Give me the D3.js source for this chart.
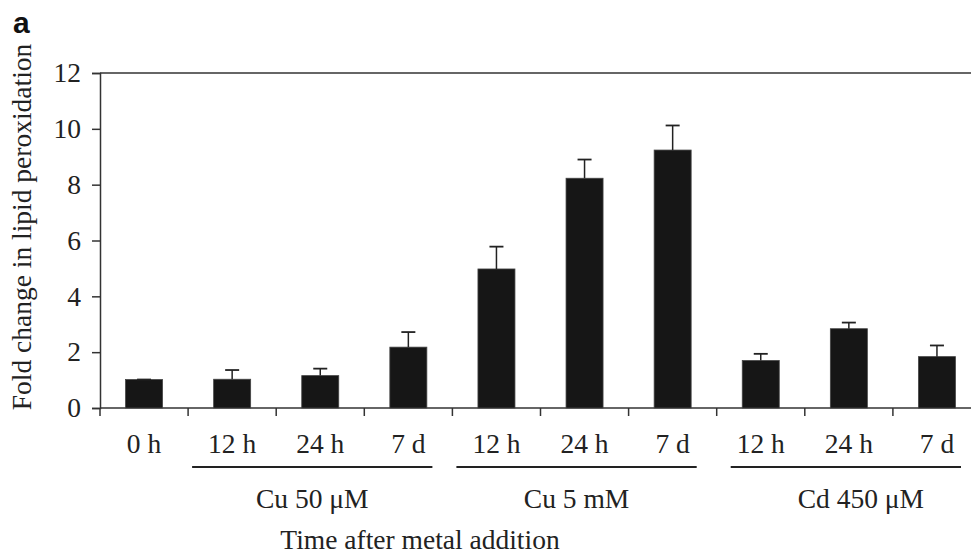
<!DOCTYPE html>
<html>
<head>
<meta charset="utf-8">
<script src="https://cdnjs.cloudflare.com/ajax/libs/d3/7.8.5/d3.min.js"></script>
<style>
	body { margin: 0; background: #fff; }
	text { font-family: 'Liberation Serif', 'Times New Roman', serif; fill: #222; }
</style>
</head>
<body>
<script>
// data
var labels = ['0 h', '12 h', '24 h', '7 d', '12 h', '24 h', '7 d', '12 h', '24 h', '7 d'];
var means  = [1.02, 1.03, 1.16, 2.18, 4.98, 8.23, 9.24, 1.70, 2.84, 1.84];
var errors = [0.0, 0.33, 0.25, 0.54, 0.80, 0.67, 0.88, 0.24, 0.22, 0.40];
var groupNames = ['Cu 50 \u03bcM', 'Cu 5 mM', 'Cd 450 \u03bcM'];
var groupFirst = [1, 4, 7];
var groupLast  = [3, 6, 9];
var yTicks = [0, 2, 4, 6, 8, 10, 12];

var width = 971, height = 557;
var plotLeft = 100, plotRight = 981, plotTop = 73, plotBottom = 408;
var fontSize = '27.5px';

var svg = d3.select('body')
	.append('svg')
	.attr('width', width)
	.attr('height', height);

var x = d3.scaleBand()
	.domain(d3.range(labels.length))
	.range([plotLeft, plotRight])
	.paddingInner(0.58)
	.paddingOuter(0.29);

var y = d3.scaleLinear()
	.domain([0, 12])
	.range([plotBottom, plotTop]);

var step = x.step();
var bandStart = function(i) { return plotLeft + i * step; };

// panel letter
svg.append('text')
	.attr('x', 13)
	.attr('y', 33)
	.style('font-family', "'Liberation Sans', Arial, sans-serif")
	.style('font-weight', 'bold')
	.style('font-size', '30px')
	.style('fill', '#111')
	.text('a');

// top frame line
svg.append('line')
	.attr('x1', plotLeft).attr('x2', plotRight)
	.attr('y1', plotTop).attr('y2', plotTop)
	.style('stroke', '#333')
	.style('stroke-width', 1.5);

// y axis
var yAxis = svg.append('g')
	.attr('transform', 'translate(' + plotLeft + ',0)')
	.call(d3.axisLeft(y).tickValues(yTicks).tickSize(8).tickPadding(11));
yAxis.select('.domain').style('stroke', '#333').style('stroke-width', 1.5);
yAxis.selectAll('.tick line').style('stroke', '#333').style('stroke-width', 1.5);
yAxis.selectAll('.tick text')
	.style('font-family', "'Liberation Serif', serif")
	.style('font-size', fontSize)
	.style('fill', '#222');

// x axis line and ticks at band edges
svg.append('line')
	.attr('x1', plotLeft).attr('x2', plotRight)
	.attr('y1', plotBottom).attr('y2', plotBottom)
	.style('stroke', '#333')
	.style('stroke-width', 1.5);
svg.selectAll('.xtick')
	.data(d3.range(labels.length + 1))
	.enter()
	.append('line')
	.classed('xtick', true)
	.attr('x1', function(d) { return bandStart(d); })
	.attr('x2', function(d) { return bandStart(d); })
	.attr('y1', plotBottom)
	.attr('y2', plotBottom + 8)
	.style('stroke', '#333')
	.style('stroke-width', 1.5);

// bars
svg.selectAll('.bar')
	.data(means)
	.enter()
	.append('rect')
	.classed('bar', true)
	.attr('x', function(d, i) { return x(i); })
	.attr('width', x.bandwidth())
	.attr('y', function(d) { return y(d); })
	.attr('height', function(d) { return y(0) - y(d); })
	.style('fill', '#161616')
	.style('stroke', '#444')
	.style('stroke-width', 0.8);

// error bars (upper only)
var cx = function(i) { return x(i) + x.bandwidth() / 2; };
svg.selectAll('.err')
	.data(means)
	.enter()
	.append('line')
	.classed('err', true)
	.attr('x1', function(d, i) { return cx(i); })
	.attr('x2', function(d, i) { return cx(i); })
	.attr('y1', function(d) { return y(d); })
	.attr('y2', function(d, i) { return y(d + errors[i]); })
	.style('stroke', '#222')
	.style('stroke-width', 1.5);
svg.selectAll('.cap')
	.data(means)
	.enter()
	.append('line')
	.classed('cap', true)
	.attr('x1', function(d, i) { return cx(i) - 7; })
	.attr('x2', function(d, i) { return cx(i) + 7; })
	.attr('y1', function(d, i) { return y(d + errors[i]); })
	.attr('y2', function(d, i) { return y(d + errors[i]); })
	.style('stroke', '#222')
	.style('stroke-width', 1.8);

// category labels
svg.selectAll('.cat')
	.data(labels)
	.enter()
	.append('text')
	.classed('cat', true)
	.attr('x', function(d, i) { return cx(i); })
	.attr('y', 453)
	.style('text-anchor', 'middle')
	.style('font-size', fontSize)
	.text(function(d) { return d; });

// group underlines and names
var gx1 = function(g) { return bandStart(groupFirst[g]) + (g === 2 ? 14 : 4); };
var gx2 = function(g) { return bandStart(groupLast[g] + 1) - 20; };
svg.selectAll('.gline')
	.data(groupNames)
	.enter()
	.append('line')
	.classed('gline', true)
	.attr('x1', function(d, i) { return gx1(i); })
	.attr('x2', function(d, i) { return gx2(i); })
	.attr('y1', 467)
	.attr('y2', 467)
	.style('stroke', '#222')
	.style('stroke-width', 2.2);
svg.selectAll('.gname')
	.data(groupNames)
	.enter()
	.append('text')
	.classed('gname', true)
	.attr('x', function(d, i) { return (gx1(i) + gx2(i)) / 2 + (i === 2 ? 15 : 0); })
	.attr('y', 508)
	.style('text-anchor', 'middle')
	.style('font-size', fontSize)
	.text(function(d) { return d; });

// axis titles
svg.append('text')
	.attr('x', 420)
	.attr('y', 549)
	.style('text-anchor', 'middle')
	.style('font-size', fontSize)
	.text('Time after metal addition');

svg.append('text')
	.attr('transform', 'translate(31,227) rotate(-90)')
	.style('text-anchor', 'middle')
	.style('font-size', fontSize)
	.text('Fold change in lipid peroxidation');
</script>
</body>
</html>
